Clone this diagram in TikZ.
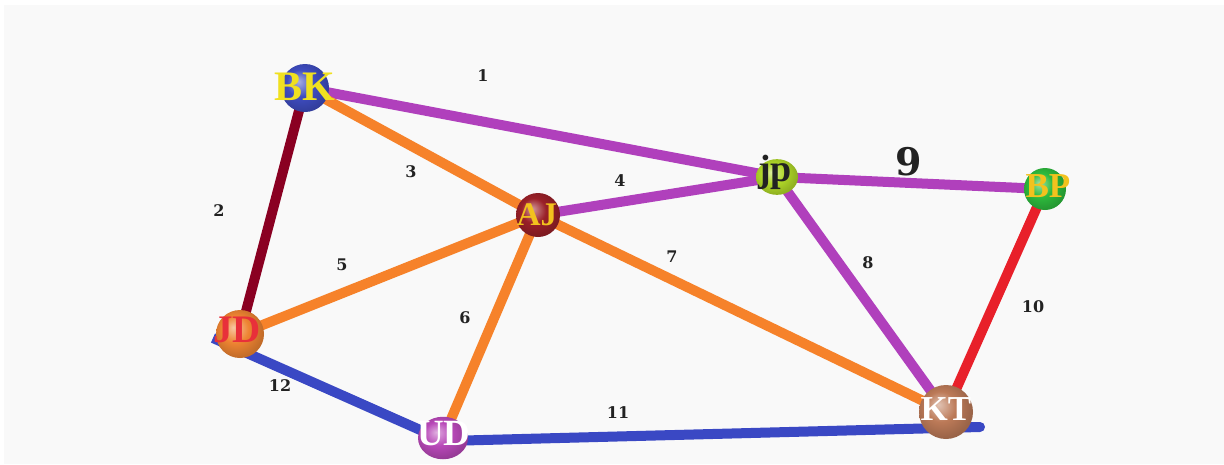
\documentclass[tikz,border=0pt]{standalone}
\usepackage{fontspec}
\newfontfamily\lblfont{DejaVu Serif}
\newfontfamily\nodefont{Liberation Serif}
\definecolor{bg}{HTML}{F9F9F9}
\definecolor{epurple}{HTML}{B040BC}
\definecolor{eorange}{HTML}{F6822A}
\definecolor{edarkred}{HTML}{8A0022}
\definecolor{ered}{HTML}{E8202A}
\definecolor{eblue}{HTML}{3A48C4}
\definecolor{sBK}{HTML}{3E4CC0}
\definecolor{sAJ}{HTML}{9A2028}
\definecolor{sjp}{HTML}{B0D828}
\definecolor{sBP}{HTML}{2DBA3D}
\definecolor{sJD}{HTML}{EE8432}
\definecolor{sUD}{HTML}{B848B8}
\definecolor{sKT}{HTML}{BC7A58}
\definecolor{tgold}{HTML}{F2C21E}
\definecolor{tyellow}{HTML}{F0E020}
\definecolor{tred}{HTML}{E8303A}
\definecolor{tdark}{HTML}{222222}
\colorlet{spc}{gray}
\pgfdeclareradialshading[spc]{sph}{\pgfpoint{-7bp}{7bp}}{%
  color(0bp)=(spc!45!white); color(14bp)=(spc); color(27bp)=(spc!82!black); color(50bp)=(spc!82!black)}
\tikzset{
  edge/.style={line width=10pt},
  sc/.code={\colorlet{spc}{#1}},
  sphere/.style={circle, inner sep=0pt, shading=sph},
  nlabel/.style={inner sep=0pt},
  elabel/.style={font=\lblfont\bfseries\fontsize{16}{16}\selectfont, text=tdark, inner sep=0pt}
}
\newcommand{\nf}[1]{\nodefont\bfseries\fontsize{#1}{#1}\selectfont}
\begin{document}
\begin{tikzpicture}[x=1pt,y=-1pt]
\useasboundingbox (0,0) rectangle (1224,464);
\fill[white] (0,0) rectangle (1224,464);
\fill[bg] (4,5) rectangle (1224,464);
% positions
\coordinate (pBK) at (305,88);
\coordinate (pAJ) at (538,215);
\coordinate (pjp) at (777,177);
\coordinate (pBP) at (1045,189);
\coordinate (pJD) at (240,334);
\coordinate (pUD) at (443,438);
\coordinate (pKT) at (946,412);
\coordinate (endKT) at (980,427);
\coordinate (endJD) at (213,338);
\coordinate (endUD) at (445,441);
% edges
\draw[edge, epurple] (pBK) -- (pjp);
\draw[edge, edarkred] (pBK) -- (pJD);
\draw[edge, eorange] (pBK) -- (pAJ);
\draw[edge, epurple] (pAJ) -- (pjp);
\draw[edge, eorange] (pJD) -- (pAJ);
\draw[edge, eorange] (pUD) -- (pAJ);
\draw[edge, eorange] (pAJ) -- (pKT);
\draw[edge, epurple] (pjp) -- (pKT);
\draw[edge, epurple] (pjp) -- (pBP);
\draw[edge, ered] (pBP) -- (pKT);
\draw[edge, eblue, line cap=round] (endUD) -- (endKT);
\draw[edge, eblue] (endJD) -- (endUD);
% spheres
\node[sphere, sc=sBK, minimum size=48pt] (BK) at (pBK) {};
\node[sphere, sc=sAJ, minimum size=44pt] (AJ) at (pAJ) {};
\node[sphere, sc=sjp, minimum size=42pt, yscale=0.85] (jp) at (pjp) {};
\node[sphere, sc=sBP, minimum size=42pt] (BP) at (pBP) {};
\node[sphere, sc=sJD, minimum size=48pt] (JD) at (pJD) {};
\node[sphere, sc=sUD, minimum size=50pt, yscale=0.85] (UD) at (pUD) {};
\node[sphere, sc=sKT, minimum size=54pt] (KT) at (pKT) {};
% node labels
\node[nlabel, text=tyellow, font=\nf{42}] (tBK) at (305,87) {BK};
\node[nlabel, text=tgold, font=\nf{33}] (tAJ) at (537,215) {AJ};
\node[nlabel, text=tdark, font=\nf{38}] (tjp) at (775,172) {jp};
\node[nlabel, text=tgold, font=\nf{35}] (tBP) at (1048,186) {BP};
\node[nlabel, text=tred, font=\nf{39}] (tJD) at (237,330) {JD};
\node[nlabel, text=white, font=\nf{37}] (tUD) at (444,434) {UD};
\node[nlabel, text=white, font=\nf{35}] (tKT) at (946,409) {KT};
% edge labels
\node[elabel] (l1) at (483,76) {1};
\node[elabel] (l2) at (219,211) {2};
\node[elabel] (l3) at (411,172) {3};
\node[elabel] (l4) at (620,181) {4};
\node[elabel] (l5) at (342,265) {5};
\node[elabel] (l6) at (465,318) {6};
\node[elabel] (l7) at (672,257) {7};
\node[elabel] (l8) at (868,263) {8};
\node[elabel, font=\lblfont\bfseries\fontsize{38}{38}\selectfont] (l9) at (909,162) {9};
\node[elabel] (l10) at (1033,307) {10};
\node[elabel] (l11) at (618,413) {11};
\node[elabel] (l12) at (280,386) {12};
\end{tikzpicture}
\end{document}
